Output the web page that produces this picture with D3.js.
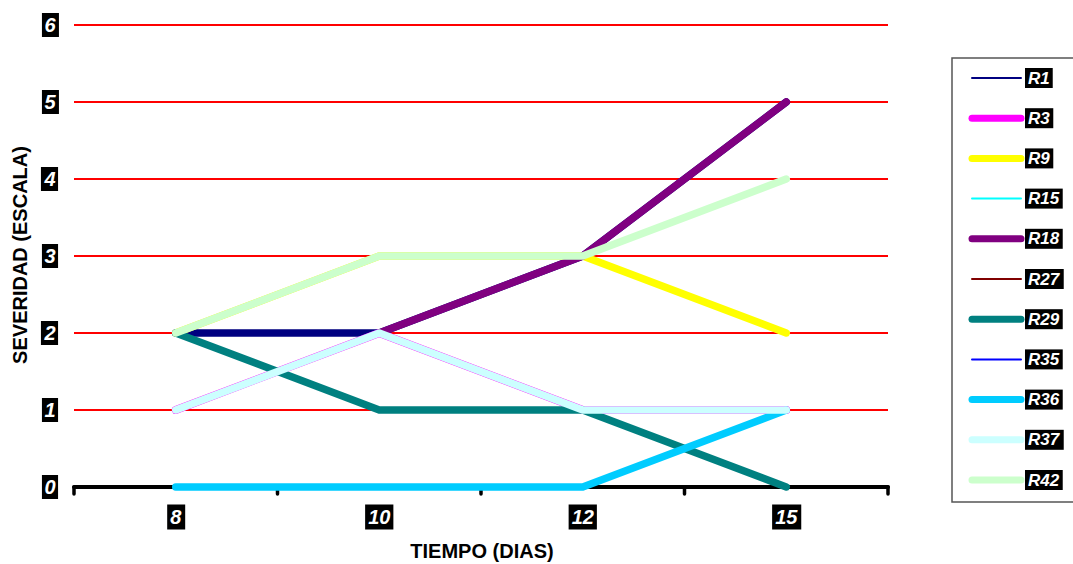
<!DOCTYPE html>
<html>
<head>
<meta charset="utf-8">
<script src="https://cdn.jsdelivr.net/npm/d3@7"></script>
<style>
  html, body { margin: 0; padding: 0; background: #fff; }
  svg { display: block; }
  text { font-family: "Liberation Sans", Arial, sans-serif; }
</style>
</head>
<body>
<svg id="chart" width="1073" height="564"></svg>
<script>
// Severity score per sampling day (days 8, 10, 12, 15)
const days = ["8", "10", "12", "15"];
const yTicks = [0, 1, 2, 3, 4, 5, 6];
const seriesNames = ["R1", "R3", "R9", "R15", "R18", "R27", "R29", "R35", "R36", "R37", "R42"];

const R1  = [2, 2, 3, 5];
const R3  = [1, 2, 1, 1];
const R9  = [2, 3, 3, 2];
const R15 = [0, 0, 0, 1];
const R18 = [null, 2, 3, 5];
const R27 = [1, 2, 1, 1];
const R29 = [2, 1, 1, 0];
const R35 = [0, 0, 0, 1];
const R36 = [0, 0, 0, 1];
const R37 = [1, 2, 1, 1];
const R42 = [2, 3, 3, 4];
const seriesValues = [R1, R3, R9, R15, R18, R27, R29, R35, R36, R37, R42];

// Line styling
const colors = ["#000080", "#FF00FF", "#FFFF00", "#00FFFF", "#800080", "#800000",
                "#008080", "#0000FF", "#00CCFF", "#CCFFFF", "#CCFFCC"];
const lineWidths   = [7.5, 7.9, 7.5, 2, 7.5, 2, 7.5, 2, 7.5, 7.5, 7.5];
const legendWidths = [2, 7, 7, 2, 7, 2, 7, 2, 7, 7, 7];

const svg = d3.select("#chart");
const plot = { left: 74, right: 888, top: 25, bottom: 487 };

const x = d3.scaleBand().domain(days).range([plot.left, plot.right]).padding(0);
const xc = d => x(d) + x.bandwidth() / 2;
const y = d3.scaleLinear().domain([0, 6]).range([plot.bottom, plot.top]);

// Horizontal red gridlines
svg.append("g").selectAll("line")
  .data(yTicks.filter(t => t > 0))
  .join("line")
  .attr("x1", plot.left).attr("x2", plot.right)
  .attr("y1", d => y(d)).attr("y2", d => y(d))
  .attr("stroke", "#FF0000").attr("stroke-width", 2);

// Category axis: baseline with tick marks at band boundaries
const axisG = svg.append("g");
axisG.append("line")
  .attr("x1", plot.left).attr("x2", plot.right)
  .attr("y1", y(0)).attr("y2", y(0))
  .attr("stroke", "#000").attr("stroke-width", 4).attr("stroke-linecap", "round");
const bounds = days.map(d => x(d)).concat([x(days[days.length - 1]) + x.bandwidth()]);
axisG.selectAll("line.tick")
  .data(bounds)
  .join("line")
  .attr("class", "tick")
  .attr("x1", d => d).attr("x2", d => d)
  .attr("y1", y(0)).attr("y2", y(0) + 7)
  .attr("stroke", "#000").attr("stroke-width", 3.5).attr("stroke-linecap", "round");

// Series lines, drawn in legend order
const line = d3.line()
  .defined(d => d.v !== null)
  .x(d => xc(d.day))
  .y(d => y(d.v));

svg.append("g").selectAll("path")
  .data(seriesNames.map((name, i) => ({
    name, color: colors[i], width: lineWidths[i],
    pts: days.map((day, j) => ({ day, v: seriesValues[i][j] }))
  })))
  .join("path")
  .attr("d", d => line(d.pts))
  .attr("fill", "none")
  .attr("stroke", d => d.color)
  .attr("stroke-width", d => d.width)
  .attr("stroke-linecap", "round")
  .attr("stroke-linejoin", "round");

// White-on-black label helper
function boxedLabel(g, txt, cx, cy, size, padX, boxH, anchor) {
  const t = g.append("text")
    .attr("x", cx).attr("y", cy)
    .attr("text-anchor", anchor)
    .attr("dominant-baseline", "central")
    .attr("font-size", size)
    .attr("font-weight", "bold")
    .attr("font-style", "italic")
    .attr("fill", "#fff")
    .text(txt);
  const bb = t.node().getBBox();
  g.insert("rect", () => t.node())
    .attr("x", bb.x - padX).attr("y", cy - boxH / 2)
    .attr("width", bb.width + padX * 2).attr("height", boxH)
    .attr("fill", "#000");
}

// Y tick labels
const yLab = svg.append("g");
yTicks.forEach(t => boxedLabel(yLab, String(t), 50, y(t), 20, 2.5, 24, "middle"));

// X tick labels
const xLab = svg.append("g");
days.forEach(d => boxedLabel(xLab, d, xc(d), 517, 20, 3, 25, "middle"));

// Axis titles
svg.append("text")
  .attr("x", 482).attr("y", 551)
  .attr("text-anchor", "middle").attr("dominant-baseline", "central")
  .attr("font-size", 20).attr("font-weight", "bold").attr("fill", "#000")
  .text("TIEMPO (DIAS)");

svg.append("text")
  .attr("transform", "translate(20,255) rotate(-90)")
  .attr("text-anchor", "middle").attr("dominant-baseline", "central")
  .attr("font-size", 20).attr("font-weight", "bold").attr("fill", "#000")
  .text("SEVERIDAD (ESCALA)");

// Legend
const legend = svg.append("g");
legend.append("rect")
  .attr("x", 952).attr("y", 58).attr("width", 130).attr("height", 444)
  .attr("fill", "#fff").attr("stroke", "#555").attr("stroke-width", 1.5);
const legY = d3.scalePoint().domain(seriesNames).range([78, 480]);
seriesNames.forEach((name, i) => {
  const cy = legY(name);
  legend.append("line")
    .attr("x1", 972).attr("x2", 1021)
    .attr("y1", cy).attr("y2", cy)
    .attr("stroke", colors[i]).attr("stroke-width", legendWidths[i])
    .attr("stroke-linecap", "round");
  boxedLabel(legend, name, 1028, cy, 17, 3, 20, "start");
});
</script>
